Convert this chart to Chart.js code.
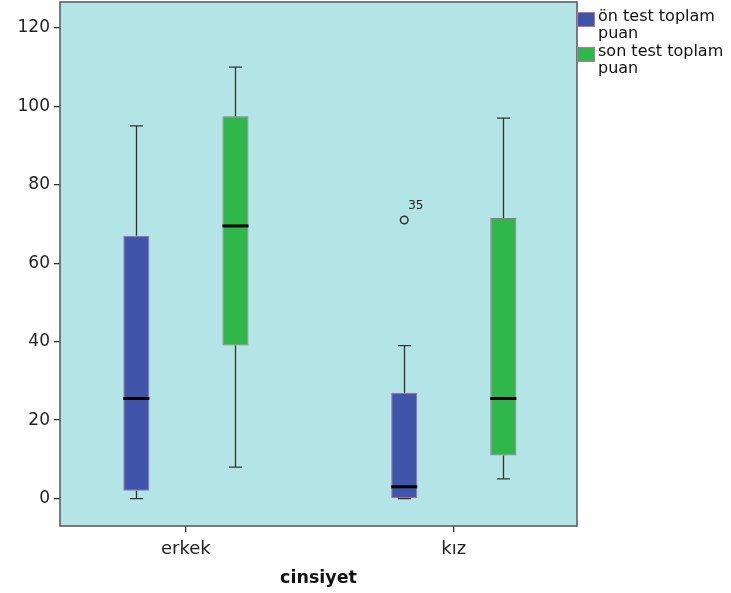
<!DOCTYPE html>
<html>
<head>
<meta charset="utf-8">
<script src="https://cdn.jsdelivr.net/npm/chart.js@4"></script>
<style>
  body { margin: 0; background: #fff; }
  #wrap { position: relative; width: 731px; height: 593px; }
  .leg { position: absolute; left: 577px; font-family: "DejaVu Sans", sans-serif; font-size: 16px; line-height: 17px; color: #111; }
  .leg .sw { position: absolute; left: 0; top: 5px; width: 16px; height: 13px; border: 1px solid #c070b0; }
  .leg .tx { position: absolute; left: 21px; top: 0; white-space: nowrap; }
</style>
</head>
<body>
<div id="wrap">
  <canvas id="chart"></canvas>
  <div id="legend"></div>
</div>
<script>
// DATA
const categories = ['erkek', 'kız'];
const seriesNames = [['ön test toplam', 'puan'], ['son test toplam', 'puan']];
const seriesColors = ['#3e55a9', '#2fb74a'];

// ön test toplam puan
const onMin = [0, 0];
const onQ1 = [2, 0];
const onMedian = [25.5, 3];
const onQ3 = [67, 27];
const onMax = [95, 39];

// son test toplam puan
const sonMin = [8, 5];
const sonQ1 = [39, 11];
const sonMedian = [69.5, 25.5];
const sonQ3 = [97.5, 71.5];
const sonMax = [110, 97];

// outliers (series index, category index, value, case label)
const outlierSeries = [0];
const outlierCat = [1];
const outlierValue = [71];
const outlierLabel = ['35'];

const yTicks = [0, 20, 40, 60, 80, 100, 120];

const stats = [
  { min: onMin, q1: onQ1, med: onMedian, q3: onQ3, max: onMax },
  { min: sonMin, q1: sonQ1, med: sonMedian, q3: sonQ3, max: sonMax }
];

// HTML legend
const legend = document.getElementById('legend');
seriesNames.forEach((lines, i) => {
  let d = document.createElement('div');
  d.className = 'leg';
  d.style.top = (7 + i * 35) + 'px';
  d.innerHTML = `<div class="sw" style="background:${seriesColors[i]}"></div><div class="tx">${lines.join('<br>')}</div>`;
  legend.appendChild(d);
});

// background, frame, whiskers, medians, outliers
const boxPlugin = {
  id: 'boxPlugin',
  beforeDraw(chart) {
    const a = chart.chartArea;
    const ctx = chart.ctx;
    ctx.save();
    ctx.fillStyle = '#b3e5e6';
    ctx.fillRect(a.left, a.top, a.right - a.left, a.bottom - a.top);
    ctx.restore();
  },
  afterDatasetsDraw(chart) {
    const ctx = chart.ctx;
    const y = chart.scales.y;
    const a = chart.chartArea;
    ctx.save();
    stats.forEach((s, di) => {
      const meta = chart.getDatasetMeta(di);
      meta.data.forEach((bar, i) => {
        const x = Math.round(bar.x) + 0.5;
        const half = bar.width / 2;
        const cap = half / 2;
        ctx.strokeStyle = '#333';
        ctx.lineWidth = 1.3;
        // upper whisker
        ctx.beginPath();
        ctx.moveTo(x, y.getPixelForValue(s.q3[i]));
        ctx.lineTo(x, y.getPixelForValue(s.max[i]));
        ctx.moveTo(x - cap, y.getPixelForValue(s.max[i]));
        ctx.lineTo(x + cap, y.getPixelForValue(s.max[i]));
        // lower whisker
        ctx.moveTo(x, y.getPixelForValue(s.q1[i]));
        ctx.lineTo(x, y.getPixelForValue(s.min[i]));
        ctx.moveTo(x - cap, y.getPixelForValue(s.min[i]));
        ctx.lineTo(x + cap, y.getPixelForValue(s.min[i]));
        ctx.stroke();
        // median
        ctx.strokeStyle = '#000';
        ctx.lineWidth = 3;
        ctx.beginPath();
        ctx.moveTo(bar.x - half, y.getPixelForValue(s.med[i]));
        ctx.lineTo(bar.x + half, y.getPixelForValue(s.med[i]));
        ctx.stroke();
      });
    });
    // outliers
    outlierValue.forEach((v, k) => {
      const bar = chart.getDatasetMeta(outlierSeries[k]).data[outlierCat[k]];
      const py = y.getPixelForValue(v);
      ctx.strokeStyle = '#333';
      ctx.lineWidth = 1.5;
      ctx.beginPath();
      ctx.arc(bar.x, py, 3.8, 0, Math.PI * 2);
      ctx.stroke();
      ctx.fillStyle = '#222';
      ctx.font = '12px "DejaVu Sans"';
      ctx.textBaseline = 'middle';
      ctx.fillText(outlierLabel[k], bar.x + 4, py - 14);
    });
    // frame
    ctx.strokeStyle = '#555';
    ctx.lineWidth = 1.5;
    ctx.strokeRect(a.left, a.top, a.right - a.left, a.bottom - a.top);
    ctx.restore();
  }
};

new Chart(document.getElementById('chart'), {
  type: 'bar',
  data: {
    datasets: stats.map((s, i) => ({
      label: seriesNames[i].join(' '),
      data: categories.map((c, j) => ({ x: j, y: [s.q1[j], s.q3[j]] })),
      backgroundColor: seriesColors[i],
      borderColor: '#b0629c',
      borderWidth: 1,
      borderSkipped: false,
      categoryPercentage: 0.74,
      barPercentage: 0.263
    }))
  },
  options: {
    responsive: true,
    maintainAspectRatio: false,
    animation: false,
    layout: { padding: { top: 2, right: 154, left: 0, bottom: 0 } },
    plugins: {
      legend: { display: false },
      tooltip: { enabled: false }
    },
    scales: {
      x: {
        type: 'linear',
        min: -0.47,
        max: 1.46,
        offset: false,
        grid: { offset: false, drawOnChartArea: false, tickLength: 6, color: '#333', lineWidth: 1.3 },
        border: { display: false },
        ticks: {
          color: '#222',
          padding: 7,
          font: { family: 'DejaVu Sans', size: 18 },
          callback: (v) => categories[v]
        },
        afterBuildTicks(scale) { scale.ticks = categories.map((c, j) => ({ value: j })); },
        title: {
          display: true,
          text: 'cinsiyet',
          color: '#111',
          padding: { top: 0, bottom: 4 },
          font: { family: 'DejaVu Sans', size: 17.5, weight: 'bold' }
        },
        afterFit(scale) {
          scale.height = 67;
          scale.paddingLeft = 0;
          scale.paddingRight = 0;
        }
      },
      y: {
        min: -7,
        max: 126.6,
        grid: { drawOnChartArea: false, tickLength: 6, color: '#333', lineWidth: 1.3 },
        border: { display: false },
        ticks: { color: '#222', padding: 4, font: { family: 'DejaVu Sans', size: 17 } },
        afterBuildTicks(scale) { scale.ticks = yTicks.map(v => ({ value: v })); },
        afterFit(scale) {
          scale.width = 60;
          scale.paddingTop = 0;
          scale.paddingBottom = 0;
        }
      }
    }
  },
  plugins: [boxPlugin]
});
</script>
</body>
</html>
